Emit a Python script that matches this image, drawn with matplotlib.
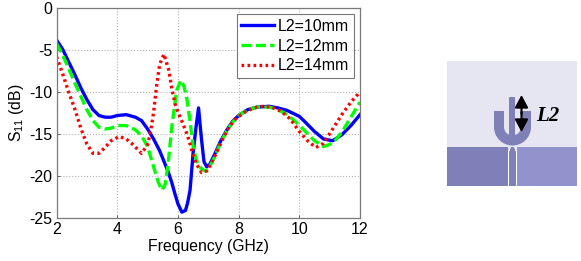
"""S11 vs frequency for three stub lengths, with antenna sketch on the right."""
import matplotlib
matplotlib.use("Agg")
import matplotlib.pyplot as plt
from matplotlib.patches import Rectangle, Wedge, Polygon

plt.rcParams["font.family"] = ["Liberation Sans", "DejaVu Sans"]
plt.rcParams["axes.unicode_minus"] = False
plt.rcParams["mathtext.fontset"] = "custom"
plt.rcParams["mathtext.rm"] = "Liberation Sans"
plt.rcParams["mathtext.default"] = "rm"

W, H = 581, 261

# values
freq_10 = [2, 2.2, 2.4, 2.6, 2.8, 3, 3.2, 3.4, 3.6, 3.8, 4, 4.3, 4.6, 4.8, 5, 5.2, 5.4, 5.68, 5.8, 5.9, 6,
           6.13, 6.25, 6.32, 6.4, 6.5, 6.6, 6.68, 6.78, 6.86, 6.95, 7.05, 7.2, 7.4, 7.6, 7.8, 8,
           8.3, 8.6, 9, 9.3, 9.6, 10, 10.2, 10.5, 10.8, 11.1, 11.4, 11.7, 12]
s11_10 = [-3.8, -4.9, -6.4, -7.9, -9.5, -10.9, -12.1, -12.8, -13.0, -13.0, -12.8, -12.7, -13.0, -13.4, -14.4,
          -15.6, -17.0, -19.5, -20.8, -22.1, -23.3, -24.3, -24.1, -23.2, -21.7, -17.3, -14.1, -11.9, -15.7,
          -18.3, -18.9, -18.6, -17.5, -15.9, -14.6, -13.5, -12.8, -12.1, -11.8, -11.7, -11.9, -12.2,
          -12.9, -13.6, -14.7, -15.6, -15.8, -15.1, -14, -12.7]

freq_12 = [2, 2.2, 2.4, 2.6, 2.8, 3, 3.2, 3.4, 3.6, 3.8, 4, 4.3, 4.6, 4.8, 5, 5.2, 5.35, 5.47, 5.58, 5.68, 5.8,
           5.96, 6.1, 6.2, 6.3, 6.4, 6.5, 6.6, 6.7, 6.8, 6.9, 7, 7.2, 7.4, 7.6, 7.8, 8, 8.3, 8.6, 9,
           9.3, 9.6, 9.9, 10.2, 10.5, 10.8, 11.1, 11.4, 11.7, 12]
s11_12 = [-4.2, -5.6, -7.2, -8.9, -10.5, -12.1, -13.4, -14.2, -14.4, -14.3, -14.0, -14.0, -14.5, -15.2, -16.5,
          -18.9, -20.7, -21.7, -21.0, -18.5, -14.1, -9.8, -8.6, -9.3, -10.9, -13.5, -16.4, -18, -18.8,
          -19.2, -19.4, -19.2, -17.8, -16.1, -14.7, -13.6, -12.8, -12.1, -11.8, -11.8, -12.1, -12.7, -13.6,
          -14.7, -15.8, -16.5, -16.1, -14.8, -13, -11.2]

freq_14 = [2, 2.2, 2.4, 2.6, 2.8, 3, 3.2, 3.4, 3.6, 3.8, 4.07, 4.3, 4.5, 4.8, 5, 5.1, 5.2, 5.3, 5.4, 5.54, 5.7,
           5.8, 5.9, 6, 6.1, 6.2, 6.3, 6.4, 6.5, 6.6, 6.78, 6.95, 7.1, 7.3, 7.5, 7.7, 7.9, 8.2, 8.5, 8.8,
           9.1, 9.4, 9.7, 10, 10.3, 10.55, 10.8, 11.1, 11.4, 11.7, 12]
s11_14 = [-5.8, -7.8, -10, -12, -14.3, -16.2, -17.3, -17.3, -16.6, -15.8, -15.3, -15.6, -16.2, -17.3, -16.3,
          -14.7, -12.4, -9.2, -6.7, -5.5, -7.4, -9.6, -11.3, -12.4, -13.2, -14.1, -15, -16.2, -17.5, -18.5,
          -19.6, -19.4, -18.5, -17, -15.4, -14.1, -13.2, -12.4, -11.9, -11.7, -11.8, -12.3, -13.2, -14.7,
          -15.9, -16.6, -16.1, -14.4, -12.7, -11.2, -10]

fig = plt.figure(figsize=(W / 100, H / 100), dpi=100)
ax = fig.add_axes([56.5 / W, 1 - 218 / H, (360 - 56.5) / W, 210 / H])

ax.plot(freq_10, s11_10, color="#0000ff", lw=2.4, label="L2=10mm")
ax.plot(freq_12, s11_12, color="#00ff00", lw=2.4, ls=(0, (3, 1.3)), label="L2=12mm")
ax.plot(freq_14, s11_14, color="#ff0000", lw=2.4, ls=(0, (0.8, 1.0)), label="L2=14mm")

ax.set_xlim(2, 12)
ax.set_ylim(-25, 0)
ax.set_xticks([2, 4, 6, 8, 10, 12])
ax.set_yticks([0, -5, -10, -15, -20, -25])
ax.grid(color="#b4b4b4", lw=0.8, ls=":")
ax.tick_params(direction="in", length=2, width=0.6, color="#444444", labelsize=11.5, pad=3)
for s in ax.spines.values():
    s.set_color("#7a7a7a")
    s.set_linewidth(0.9)
ax.set_xlabel("Frequency (GHz)", fontsize=11.3, labelpad=1.5)
ax.set_ylabel("S$_{11}$ (dB)", fontsize=11.3, labelpad=2)

leg = ax.legend(loc="upper left", bbox_to_anchor=((236.5 - 56.5) / 303.5, 1 - 6 / 210), borderaxespad=0,
                fontsize=11.5, fancybox=False, framealpha=1, edgecolor="#777777",
                handlelength=2.07, labelspacing=0.3, borderpad=0.3, handletextpad=0.22)
leg.get_frame().set_linewidth(0.8)

# antenna sketch, laid out in pixels
sk = fig.add_axes([0, 0, 1, 1], facecolor="none")
sk.set_xlim(0, W)
sk.set_ylim(H, 0)
sk.axis("off")
c_bg, c_left, c_right, c_ant = "#e6e6f2", "#8080b8", "#9292cc", "#8080b8"
sk.add_patch(Rectangle((447, 61), 130, 86, color=c_bg, lw=0))
sk.add_patch(Rectangle((447, 147), 62, 39, color=c_left, lw=0))
sk.add_patch(Rectangle((516, 147), 61, 39, color=c_right, lw=0))
sk.add_patch(Wedge((512.5, 127), 18.5, 0, 180, width=10, color=c_ant, lw=0))
sk.add_patch(Rectangle((494, 111), 10, 16, color=c_ant, lw=0))
sk.add_patch(Rectangle((521, 111), 10, 16, color=c_ant, lw=0))
sk.add_patch(Rectangle((509, 97), 6, 40, color=c_ant, lw=0))
sk.add_patch(Rectangle((509, 147), 7, 39, color=c_ant, lw=0))
sk.add_patch(Rectangle((508, 150), 1.2, 36, color="white", lw=0))
sk.add_patch(Rectangle((515.5, 150), 1.2, 36, color="white", lw=0))
sk.add_patch(Polygon([(508, 147), (511, 147), (509, 152)], color="white", lw=0))
sk.add_patch(Polygon([(514, 147), (517, 147), (516, 152)], color="white", lw=0))
sk.annotate("", xy=(521.5, 95), xytext=(521.5, 114),
            arrowprops=dict(arrowstyle="-|>,head_width=0.4,head_length=0.75", color="black", lw=1.5, shrinkA=0, shrinkB=0))
sk.annotate("", xy=(521.5, 132), xytext=(521.5, 112),
            arrowprops=dict(arrowstyle="-|>,head_width=0.4,head_length=0.75", color="black", lw=1.5, shrinkA=0, shrinkB=0))
sk.text(536, 116, "L2", family="Liberation Serif", style="italic", weight="bold", fontsize=15, va="center", ha="left")

fig.savefig("out.png", dpi=100)
